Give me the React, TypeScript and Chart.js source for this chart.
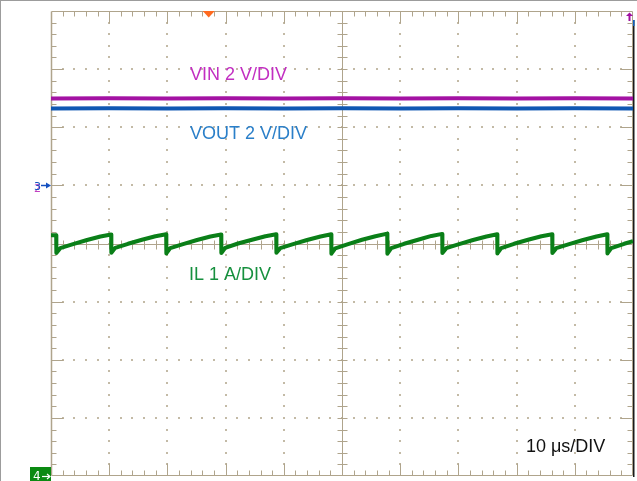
import React, { useEffect, useRef } from "react";
import { Chart, registerables } from "chart.js";

Chart.register(...registerables);

// Horizontal: 10 µs/DIV, 10 divisions. Vertical: 8 divisions (values in divisions from centre).
const timeMinUs = 0;
const timeMaxUs = 100;
const divMin = -4;
const divMax = 4;

// VIN (2 V/DIV)
const vinTimeUs = [0, 10, 20, 30, 40, 50, 60, 70, 80, 90, 100];
const vinDiv = [2.495, 2.5, 2.495, 2.5, 2.495, 2.5, 2.495, 2.5, 2.495, 2.5, 2.495];

// VOUT (2 V/DIV)
const voutTimeUs = [0, 10, 20, 30, 40, 50, 60, 70, 80, 90, 100];
const voutDiv = [2.322, 2.325, 2.322, 2.325, 2.322, 2.325, 2.322, 2.325, 2.322, 2.325, 2.322];

// IL (1 A/DIV)
const ilTimeUs = [
  0, 0.89, 0.92, 1.58, 3.79, 6.19, 8.49,
  10.34, 10.37, 11.03, 13.24, 15.64, 17.94,
  19.79, 19.82, 20.48, 22.69, 25.09, 27.39,
  29.24, 29.27, 29.93, 32.14, 34.54, 36.84,
  38.7, 38.73, 39.39, 41.6, 44.0, 46.3,
  48.15, 48.18, 48.84, 51.05, 53.45, 55.75,
  57.77, 57.8, 58.46, 60.67, 63.07, 65.37,
  67.22, 67.25, 67.91, 70.12, 72.52, 74.82,
  76.67, 76.7, 77.36, 79.57, 81.97, 84.27,
  86.12, 86.15, 86.81, 89.02, 91.42, 93.72,
  95.58, 95.61, 96.27, 98.48, 100,
];
const ilDiv = [
  0.14, 0.14, -0.165, -0.08, -0.01, 0.06, 0.12,
  0.155, -0.16, -0.075, -0.005, 0.065, 0.125,
  0.16, -0.17, -0.08, -0.01, 0.06, 0.12,
  0.155, -0.165, -0.075, 0.0, 0.065, 0.125,
  0.16, -0.16, -0.08, -0.01, 0.06, 0.12,
  0.16, -0.175, -0.085, -0.01, 0.065, 0.125,
  0.17, -0.175, -0.08, -0.005, 0.065, 0.13,
  0.165, -0.165, -0.08, -0.01, 0.06, 0.12,
  0.16, -0.17, -0.08, -0.005, 0.065, 0.125,
  0.16, -0.165, -0.08, -0.01, 0.06, 0.12,
  0.16, -0.17, -0.08, -0.005, 0.04,
];

const triggerTimeUs = 27.1;
const ch3GroundDiv = 1.0;

const labels = [
  { text: "VIN 2 V/DIV", color: "#c22ec2", t: 23.9, d: 2.815 },
  { text: "VOUT 2 V/DIV", color: "#2a7fc9", t: 23.9, d: 1.8 },
  { text: "IL 1 A/DIV", color: "#16903e", t: 23.7, d: -0.63 },
  { text: "10 μs/DIV", color: "#111111", t: 81.6, d: -3.58 },
];

const toPts = (xs: number[], ys: number[]) => xs.map((x, i) => ({ x, y: ys[i] }));

const scopePlugin = {
  id: "scope",
  beforeDatasetsDraw(chart: any) {
    const { ctx, scales } = chart;
    const xs = scales.x;
    const ys = scales.y;
    const X = (v: number) => Math.round(xs.getPixelForValue(v));
    const Y = (v: number) => Math.round(ys.getPixelForValue(v));
    ctx.save();
    // outer frame (gray)
    ctx.fillStyle = "#9c9c9c";
    ctx.fillRect(0, 0, chart.width, 1);
    ctx.fillRect(0, 0, 1, chart.height);

    const tan = "#afa48c";
    // dots on major lines
    ctx.fillStyle = "#c3baa6";
    for (let i = 1; i < 10; i++) {
      if (i === 5) continue;
      const px = X(i * 10);
      for (let m = 1; m < 40; m++) {
        const py = Y(divMin + m * 0.2);
        ctx.fillRect(px - 1, py - 1, 2, 2);
      }
    }
    for (let k = -3; k <= 3; k++) {
      if (k === 0) continue;
      const py = Y(k);
      for (let m = 1; m < 50; m++) {
        const px = X(m * 2);
        ctx.fillRect(px - 1, py - 1, 2, 2);
      }
    }

    ctx.strokeStyle = tan;
    ctx.lineWidth = 1;
    const line = (x1: number, y1: number, x2: number, y2: number) => {
      ctx.beginPath();
      ctx.moveTo(x1, y1);
      ctx.lineTo(x2, y2);
      ctx.stroke();
    };
    const L = X(timeMinUs) + 0.5;
    const R = X(timeMaxUs) - 0.5;
    const T = Y(divMax) + 0.5;
    const B = Y(divMin) - 0.5;
    // borders
    line(L, T, R, T);
    line(L, B, R, B);
    ctx.lineWidth = 1.5;
    line(L, T, L, B);
    ctx.lineWidth = 1;
    line(R, T, R, B);
    // centre cross
    const cx = X(50) + 0.5;
    const cy = Y(0) + 0.5;
    line(cx, T, cx, B);
    line(L, cy, R, cy);
    // ticks along x (top, bottom, centre)
    for (let m = 1; m < 50; m++) {
      const px = X(m * 2) + 0.5;
      const major = m % 5 === 0;
      const len = major ? 12 : 5;
      line(px, T, px, T + len);
      line(px, B, px, B - len);
      line(px, cy - 4, px, cy + 5);
    }
    // ticks along y (left, right, centre)
    for (let m = 1; m < 40; m++) {
      const py = Y(divMin + m * 0.2) + 0.5;
      const major = m % 5 === 0;
      const len = major ? 12 : 5;
      line(L, py, L + len, py);
      line(R, py, R - len, py);
      line(cx - 5, py, cx + 5, py);
    }
    // right dark edge
    ctx.fillStyle = "#1a1a1a";
    ctx.fillRect(X(timeMaxUs), Y(divMax) + 9, 1.5, Y(divMin) - Y(divMax) - 8);
    ctx.fillStyle = "#1060c0";
    ctx.fillRect(X(timeMaxUs), Y(divMax) + 9, 1.5, 6);
    ctx.restore();
  },
  afterDatasetsDraw(chart: any) {
    const { ctx, scales } = chart;
    const xs = scales.x;
    const ys = scales.y;
    ctx.save();
    ctx.font = '18px "Liberation Sans", Arial, sans-serif';
    ctx.textBaseline = "alphabetic";
    ctx.textAlign = "left";
    for (const l of labels) {
      ctx.fillStyle = l.color;
      ctx.fillText(l.text, xs.getPixelForValue(l.t), ys.getPixelForValue(l.d));
    }
    // trigger marker
    const tx = xs.getPixelForValue(triggerTimeUs);
    const top = ys.getPixelForValue(divMax);
    ctx.fillStyle = "#ff6a1f";
    ctx.beginPath();
    ctx.moveTo(tx - 6, top);
    ctx.lineTo(tx + 6, top);
    ctx.lineTo(tx, top + 6.5);
    ctx.closePath();
    ctx.fill();

    // VIN offset (off-screen) arrow at top right
    const ax = xs.getPixelForValue(timeMaxUs) - 3.5;
    ctx.fillStyle = "#a010a0";
    ctx.beginPath();
    ctx.moveTo(ax - 3.5, top + 5);
    ctx.lineTo(ax + 3.5, top + 5);
    ctx.lineTo(ax, top + 1.5);
    ctx.closePath();
    ctx.fill();
    ctx.fillRect(ax - 1, top + 5, 2, 5);

    // channel 3 ground marker
    const left = xs.getPixelForValue(timeMinUs);
    const g3 = Math.round(ys.getPixelForValue(ch3GroundDiv)) + 0.5;
    ctx.strokeStyle = "#1450c0";
    ctx.lineWidth = 1.5;
    ctx.beginPath();
    ctx.moveTo(left - 10, g3);
    ctx.lineTo(left - 3, g3);
    ctx.stroke();
    ctx.fillStyle = "#1450c0";
    ctx.beginPath();
    ctx.moveTo(left - 5, g3 - 3);
    ctx.lineTo(left - 5, g3 + 3);
    ctx.lineTo(left, g3);
    ctx.closePath();
    ctx.fill();
    ctx.font = '11px "DejaVu Sans", sans-serif';
    ctx.fillStyle = "#c040c0";
    ctx.fillText("2", left - 17, g3 + 6);
    ctx.fillStyle = "#1450c0";
    ctx.fillText("3", left - 17, g3 + 4);

    // channel 4 ground marker
    const bottom = ys.getPixelForValue(divMin);
    ctx.fillStyle = "#0b8a12";
    ctx.fillRect(left - 21, bottom - 9, 21, 14);
    ctx.fillStyle = "#ffffff";
    ctx.font = '12px "DejaVu Sans", sans-serif';
    ctx.fillText("4", left - 18, bottom + 4);
    ctx.strokeStyle = "#ffffff";
    ctx.lineWidth = 1.2;
    ctx.beginPath();
    ctx.moveTo(left - 9, bottom + 0.5);
    ctx.lineTo(left - 2, bottom + 0.5);
    ctx.stroke();
    ctx.beginPath();
    ctx.moveTo(left - 4, bottom - 2);
    ctx.lineTo(left - 1, bottom + 0.5);
    ctx.lineTo(left - 4, bottom + 3);
    ctx.stroke();
    ctx.restore();
  },
};

export default function App() {
  const ref = useRef<HTMLCanvasElement>(null);
  useEffect(() => {
    document.body.style.margin = "0";
    const chart = new Chart(ref.current as HTMLCanvasElement, {
      type: "line",
      data: {
        datasets: [
          {
            label: "IL",
            data: toPts(ilTimeUs, ilDiv),
            borderColor: "#0a7f18",
            borderWidth: 4,
            pointRadius: 0,
            tension: 0,
            borderJoinStyle: "round",
          },
          {
            label: "VOUT",
            data: toPts(voutTimeUs, voutDiv),
            borderColor: "#1057b3",
            borderWidth: 4,
            pointRadius: 0,
            tension: 0,
          },
          {
            label: "VIN",
            data: toPts(vinTimeUs, vinDiv),
            borderColor: "#a312a3",
            borderWidth: 4,
            pointRadius: 0,
            tension: 0,
          },
        ],
      },
      options: {
        animation: false,
        responsive: false,
        devicePixelRatio: 1,
        parsing: false as any,
        layout: { padding: { left: 51, right: 4, top: 11, bottom: 5 } },
        plugins: { legend: { display: false }, tooltip: { enabled: false }, title: { display: false } },
        scales: {
          x: { type: "linear", min: timeMinUs, max: timeMaxUs, display: false },
          y: { type: "linear", min: divMin, max: divMax, display: false },
        },
        events: [],
      },
      plugins: [scopePlugin],
    });
    return () => chart.destroy();
  }, []);
  return (
    <div style={{ position: "fixed", left: 0, top: 0, width: 637, height: 481, background: "#ffffff" }}>
      <canvas ref={ref} width={637} height={481} style={{ display: "block", width: 637, height: 481 }} />
    </div>
  );
}
